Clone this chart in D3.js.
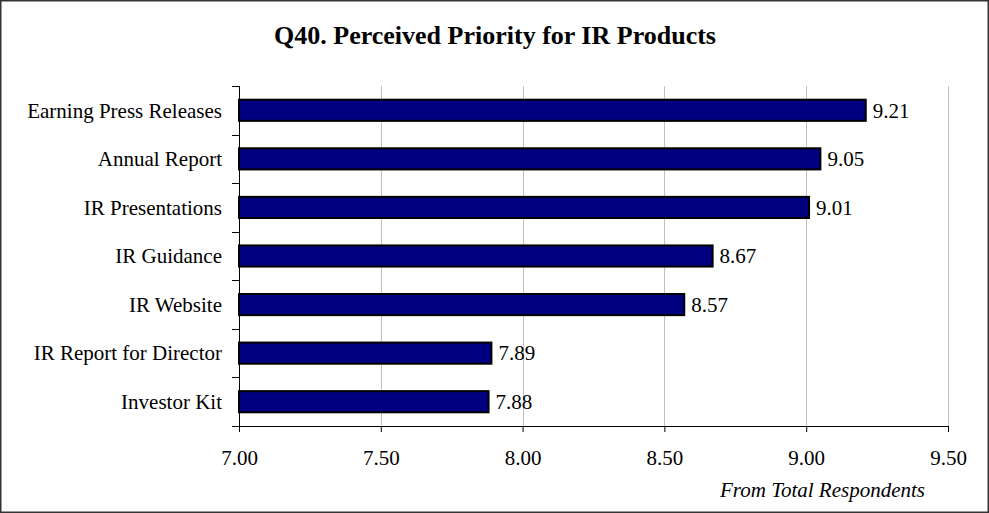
<!DOCTYPE html>
<html>
<head>
<meta charset="utf-8">
<script src="https://cdn.jsdelivr.net/npm/d3@7"></script>
<style>
  html, body { margin: 0; padding: 0; background: #fff; }
  svg { display: block; }
  text { font-family: "Liberation Serif", "Times New Roman", serif; fill: #000; }
</style>
</head>
<body>
<script>
// Survey results: perceived priority of investor-relations products
const categories = [
  "Earning Press Releases",
  "Annual Report",
  "IR Presentations",
  "IR Guidance",
  "IR Website",
  "IR Report for Director",
  "Investor Kit"
];
const scores = [9.21, 9.05, 9.01, 8.67, 8.57, 7.89, 7.88];
const tickValues = [7.0, 7.5, 8.0, 8.5, 9.0, 9.5];
const titleText = "Q40. Perceived Priority for IR Products";
const noteText = "From Total Respondents";

const W = 989, H = 513;
const plot = { left: 239, right: 948, top: 86, bottom: 426 };

const svg = d3.select("body").append("svg")
  .attr("width", W).attr("height", H);

// outer frame
svg.append("rect")
  .attr("x", 0.75).attr("y", 0.75)
  .attr("width", W - 1.5).attr("height", H - 1.5)
  .attr("fill", "#fff").attr("stroke", "#333").attr("stroke-width", 1.5);

const x = d3.scaleLinear().domain([7, 9.5]).range([plot.left, plot.right]);
const y = d3.scaleBand().domain(categories).range([plot.top, plot.bottom])
  .paddingInner(0.565).paddingOuter(0.2825);

// vertical gridlines
svg.append("g").selectAll("line")
  .data(tickValues.slice(1))
  .join("line")
  .attr("x1", d => Math.round(x(d)) + 0.5).attr("x2", d => Math.round(x(d)) + 0.5)
  .attr("y1", plot.top).attr("y2", plot.bottom)
  .attr("stroke", "#c0c0c0").attr("stroke-width", 1);

// bars
svg.append("g").selectAll("rect")
  .data(categories.map((c, i) => ({ c, v: scores[i] })))
  .join("rect")
  .attr("x", x(7))
  .attr("y", d => y(d.c))
  .attr("width", d => x(d.v) - x(7))
  .attr("height", y.bandwidth())
  .attr("fill", "#000080")
  .attr("stroke", "#000").attr("stroke-width", 2);

// value labels
svg.append("g").selectAll("text")
  .data(categories.map((c, i) => ({ c, v: scores[i] })))
  .join("text")
  .attr("x", d => x(d.v) + 7)
  .attr("y", d => y(d.c) + y.bandwidth() / 2)
  .attr("dy", "0.35em")
  .attr("font-size", 21)
  .text(d => d.v.toFixed(2));

// category axis: line, boundary ticks, labels
const step = y.step();
const axisY = svg.append("g");
axisY.append("line")
  .attr("x1", plot.left + 0.5).attr("x2", plot.left + 0.5)
  .attr("y1", plot.top).attr("y2", plot.bottom)
  .attr("stroke", "#000").attr("stroke-width", 1);
axisY.selectAll("line.tick")
  .data(d3.range(categories.length + 1))
  .join("line")
  .attr("class", "tick")
  .attr("x1", plot.left - 7).attr("x2", plot.left)
  .attr("y1", i => Math.round(plot.top + (plot.bottom - plot.top) * i / categories.length) + 0.5)
  .attr("y2", i => Math.round(plot.top + (plot.bottom - plot.top) * i / categories.length) + 0.5)
  .attr("stroke", "#000").attr("stroke-width", 1);
axisY.selectAll("text")
  .data(categories)
  .join("text")
  .attr("x", 222)
  .attr("y", d => y(d) + y.bandwidth() / 2)
  .attr("dy", "0.35em")
  .attr("text-anchor", "end")
  .attr("font-size", 21)
  .text(d => d);

// value axis
const xAxis = d3.axisBottom(x)
  .tickValues(tickValues)
  .tickSize(6)
  .tickPadding(18)
  .tickFormat(d3.format(".2f"));
const gx = svg.append("g")
  .attr("transform", `translate(0,${plot.bottom})`)
  .call(xAxis);
gx.select(".domain").attr("stroke", "#000");
gx.selectAll(".tick line").attr("stroke", "#000");
gx.selectAll(".tick text")
  .attr("font-family", "Liberation Serif, Times New Roman, serif")
  .attr("font-size", 21)
  .attr("fill", "#000");

// title
svg.append("text")
  .attr("x", 495).attr("y", 44)
  .attr("text-anchor", "middle")
  .attr("font-size", 26)
  .attr("font-weight", "bold")
  .text(titleText);

// source note
svg.append("text")
  .attr("x", 925).attr("y", 497)
  .attr("text-anchor", "end")
  .attr("font-size", 21)
  .attr("font-style", "italic")
  .text(noteText);
</script>
</body>
</html>
